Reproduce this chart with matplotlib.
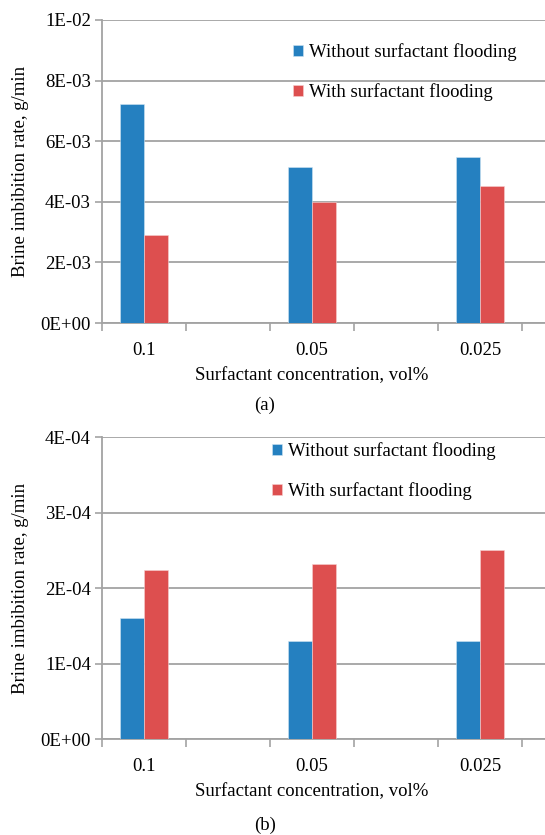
import matplotlib
matplotlib.use('Agg')
import matplotlib.pyplot as plt
import numpy as np

plt.rcParams['font.family'] = ['Liberation Serif', 'DejaVu Serif']

categories = ['0.1', '0.05', '0.025']
series_names = ['Without surfactant flooding', 'With surfactant flooding']

# panel (a)
a_without = [7.24e-3, 5.15e-3, 5.48e-3]
a_with = [2.90e-3, 3.98e-3, 4.52e-3]
a_ticks = [0, 2e-3, 4e-3, 6e-3, 8e-3, 1e-2]
a_ticklabels = ['0E+00', '2E-03', '4E-03', '6E-03', '8E-03', '1E-02']

# panel (b)
b_without = [1.61e-4, 1.295e-4, 1.295e-4]
b_with = [2.245e-4, 2.32e-4, 2.505e-4]
b_ticks = [0, 1e-4, 2e-4, 3e-4, 4e-4]
b_ticklabels = ['0E+00', '1E-04', '2E-04', '3E-04', '4E-04']

BLUE = '#2580c0'
RED = '#dd4f4f'
GRID = '#a3a3a3'
FS = 13.5

W, H = 545, 835
fig = plt.figure(figsize=(W / 100, H / 100), dpi=100, facecolor='white')


def draw_panel(ax, without, with_, ticks, ticklabels, leg_xy):
    x = np.arange(len(categories)) * 2
    bw = 0.286
    b1 = ax.bar(x - bw / 2, without, bw, color=BLUE, edgecolor='#cfe3f2', linewidth=0.4, zorder=3)
    b2 = ax.bar(x + bw / 2, with_, bw, color=RED, edgecolor='#f6d0d0', linewidth=0.4, zorder=3)
    ax.set_xlim(-0.5, 5.5)
    ax.set_ylim(ticks[0], ticks[-1])
    ax.set_yticks(ticks)
    ax.set_yticklabels(ticklabels, fontsize=FS)
    ax.set_xticks(x)
    ax.set_xticklabels(categories, fontsize=FS)
    ax.set_xticks(np.arange(-0.5, 6.0, 1.0), minor=True)
    ax.tick_params(axis='x', which='major', length=0, pad=14)
    ax.tick_params(axis='x', which='minor', length=6, width=1.2, color=GRID)
    ax.tick_params(axis='y', length=5, width=1.2, color=GRID, pad=3)
    ax.yaxis.grid(True, color=GRID, linewidth=1.3, zorder=0)
    ax.set_axisbelow(True)
    for s in ['top', 'right']:
        ax.spines[s].set_visible(False)
    for s in ['left', 'bottom']:
        ax.spines[s].set_color(GRID)
        ax.spines[s].set_linewidth(1.3)
    ax.set_ylabel('Brine imbibition rate, g/min', fontsize=FS, labelpad=8)
    ax.set_xlabel('Surfactant concentration, vol%', fontsize=FS)
    ax.xaxis.set_label_coords(210 / 504, -0.145)
    ax.legend([b1, b2], series_names, loc='upper left', bbox_to_anchor=leg_xy,
              bbox_transform=fig.transFigure, frameon=False, fontsize=FS,
              handlelength=0.55, handleheight=0.55, handletextpad=0.3,
              labelspacing=1.2, borderaxespad=0, borderpad=0)


ax_a = fig.add_axes([102 / W, 1 - 323 / H, 504 / W, 303 / H])
draw_panel(ax_a, a_without, a_with, a_ticks, a_ticklabels, (293 / W, 1 - 43 / H))
fig.text(265 / W, 1 - 405 / H, '(a)', ha='center', va='center', fontsize=FS)

ax_b = fig.add_axes([102 / W, 1 - 739 / H, 504 / W, 301.7 / H])
draw_panel(ax_b, b_without, b_with, b_ticks, b_ticklabels, (272 / W, 1 - 442 / H))
fig.text(265 / W, 1 - 825 / H, '(b)', ha='center', va='center', fontsize=FS)

plt.savefig('out.png', dpi=100, facecolor='white')
plt.close()
